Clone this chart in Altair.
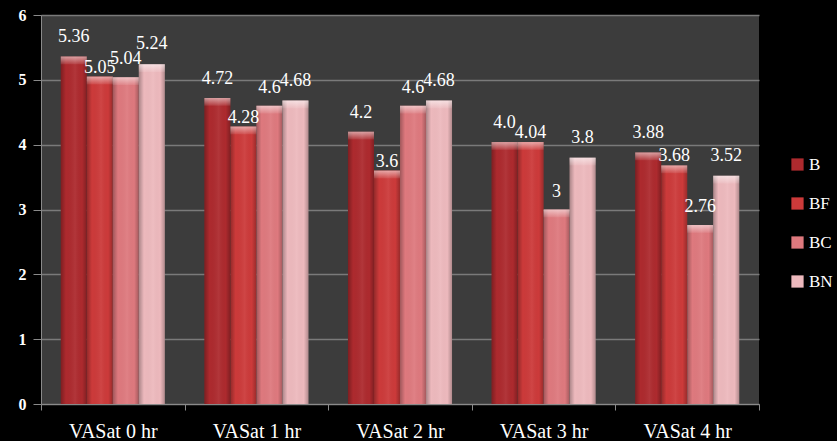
import altair as alt
import pandas as pd

times = ["VASat 0 hr", "VASat 1 hr", "VASat 2 hr", "VASat 3 hr", "VASat 4 hr"]
series = ["B", "BF", "BC", "BN"]
vals_B = [5.36, 4.72, 4.2, 4.04, 3.88]
vals_BF = [5.05, 4.28, 3.6, 4.04, 3.68]
vals_BC = [5.04, 4.6, 4.6, 3, 2.76]
vals_BN = [5.24, 4.68, 4.68, 3.8, 3.52]
labels_B = ["5.36", "4.72", "4.2", "4.0", "3.88"]
labels_BF = ["5.05", "4.28", "3.6", "4.04", "3.68"]
labels_BC = ["5.04", "4.6", "4.6", "3", "2.76"]
labels_BN = ["5.24", "4.68", "4.68", "3.8", "3.52"]
colors = ["#ad2a2e", "#cc3a3a", "#de797e", "#edb9bd"]

rows = []
for s, vs, ls in zip(series, [vals_B, vals_BF, vals_BC, vals_BN],
                     [labels_B, labels_BF, labels_BC, labels_BN]):
    for t, v, l in zip(times, vs, ls):
        rows.append({"time": t, "series": s, "value": v, "label": l})
df = pd.DataFrame(rows)

FONT = "'Liberation Serif', 'Times New Roman', Times, serif"

x_enc = alt.X("time:N", sort=times, title=None,
              scale=alt.Scale(paddingInner=0, paddingOuter=0),
              axis=alt.Axis(labelAngle=0, labelFont=FONT, labelFontSize=20,
                            labelColor="white", labelPadding=11, tickSize=6,
                            tickColor="#8a8a8a", domainColor="#8a8a8a",
                            tickBand="extent", grid=False))
xo_enc = alt.XOffset("series:N", sort=series,
                     scale=alt.Scale(domain=series, paddingInner=0, paddingOuter=0.76))
y_enc = alt.Y("value:Q", title=None,
              scale=alt.Scale(domain=[0, 6], nice=False),
              axis=alt.Axis(values=[0, 1, 2, 3, 4, 5, 6], labelFont=FONT,
                            labelFontSize=16, labelFontWeight="bold",
                            labelColor="white", labelPadding=7, tickSize=8,
                            tickColor="#8a8a8a", domainColor="#8a8a8a",
                            gridColor="#7a7a7a", gridWidth=1.5))

base = alt.Chart(df)

bars = base.mark_bar().encode(
    x=x_enc, xOffset=xo_enc, y=y_enc,
    color=alt.Color("series:N", sort=series,
                    scale=alt.Scale(domain=series, range=colors),
                    legend=alt.Legend(orient="none", legendX=748, legendY=141,
                                      title=None, symbolType="square",
                                      symbolSize=150, symbolStrokeWidth=0,
                                      labelFont=FONT, labelFontSize=17,
                                      labelColor="white", rowPadding=21,
                                      labelOffset=3)),
)

shade = base.mark_bar(
    color=alt.Gradient(
        gradient="linear", x1=0, x2=1, y1=0, y2=0,
        stops=[alt.GradientStop(color="rgba(0,0,0,0.28)", offset=0),
               alt.GradientStop(color="rgba(0,0,0,0.0)", offset=0.2),
               alt.GradientStop(color="rgba(255,255,255,0.06)", offset=0.55),
               alt.GradientStop(color="rgba(0,0,0,0.0)", offset=0.82),
               alt.GradientStop(color="rgba(0,0,0,0.25)", offset=1)])
).encode(x=x_enc, xOffset=xo_enc, y=y_enc)

bevel = base.transform_calculate(top="datum.value - 0.12").mark_bar(
    color=alt.Gradient(
        gradient="linear", x1=0, x2=0, y1=0, y2=1,
        stops=[alt.GradientStop(color="rgba(255,255,255,0.55)", offset=0),
               alt.GradientStop(color="rgba(255,255,255,0.08)", offset=1)])
).encode(x=x_enc, xOffset=xo_enc, y=y_enc, y2="top:Q")

label_dy = {"B": -19, "BF": -9, "BC": -18, "BN": -20}
texts = [
    base.transform_filter(alt.datum.series == s).mark_text(
        dy=label_dy[s], baseline="middle", font=FONT, fontSize=18,
        color="white").encode(x=x_enc, xOffset=xo_enc, y=y_enc, text="label:N")
    for s in series
]

chart = alt.layer(bars, shade, bevel, *texts).properties(
    width=718, height=389,
    autosize=alt.AutoSizeParams(type="none"),
    padding={"left": 41, "top": 15, "right": 78, "bottom": 37},
    background="#000000",
).configure_view(stroke=None, fill="#3c3c3c")

chart.save("out.html", embed_options={"renderer": "svg", "actions": False})
